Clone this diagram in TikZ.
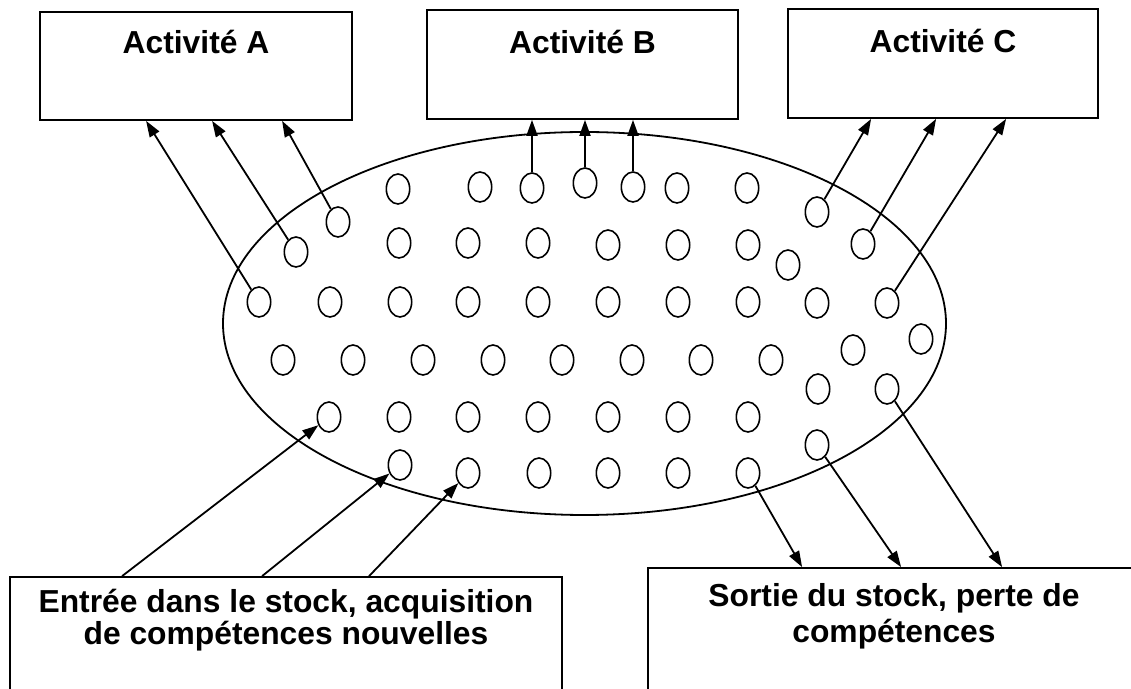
\documentclass[tikz,border=0pt]{standalone}
\usepackage{fontspec}
\setmainfont{Liberation Sans}
\usetikzlibrary{arrows.meta,shapes.geometric,calc}
\begin{document}
\begin{tikzpicture}[x=0.5pt,y=-0.5pt,
  box/.style={draw,line width=0.9pt,rectangle,inner sep=0pt},
  lbl/.style={font=\fontsize{15.9pt}{18pt}\selectfont\bfseries,inner sep=0pt},
  dot/.style={draw,ellipse,line width=0.8pt,minimum width=11.7pt,minimum height=15pt,inner sep=0pt},
  arr/.style={line width=0.9pt,-{Triangle[length=8pt,width=5.5pt]}},
  stock/.style={draw,ellipse,line width=0.9pt,minimum width=361.5pt,minimum height=191.5pt,inner sep=0pt}]
\useasboundingbox (0,0) rectangle (1131,689);
\clip (0,0) rectangle (1131,689);
% top boxes
\node[box,minimum width=156pt,minimum height=54pt] (A) at (196,66) {};
\node[box,minimum width=155.5pt,minimum height=54.5pt] (B) at (582.5,64.5) {};
\node[box,minimum width=155pt,minimum height=54.5pt] (C) at (943,63.5) {};
\node[lbl,anchor=base] (tA) at (196,54) {Activité A};
\node[lbl,anchor=base] (tB) at (582.5,54) {Activité B};
\node[lbl,anchor=base] (tC) at (943,53) {Activité C};
% bottom boxes
\node[box,minimum width=276pt,minimum height=71.5pt] (IN) at (286,648.5) {};
\node[box,minimum width=251pt,minimum height=76pt] (OUT) at (899,644) {};
\node[lbl,anchor=base,align=center,font=\fontsize{15.9pt}{16pt}\selectfont\bfseries] (tIN) at (286,645) {Entrée dans le stock, acquisition\\de compétences nouvelles};
\node[lbl,anchor=base,align=center,font=\fontsize{15.9pt}{18pt}\selectfont\bfseries] (tOUT) at (894,643) {Sortie du stock, perte de\\compétences};
% stock
\node[stock] (S) at (584.5,323.5) {};
\foreach \n/\x/\y in {
  u1/398/189, u2/480/187, b1/532/188, b2/585/183, b3/633/187, u6/677/188, u7/747/188,
  a1/259/302, a2/296/252, a3/338/222,
  v1/399/243, v2/468/243, v3/538/243, v4/608/245, v5/678/245, v6/748/245, v7/788/265,
  c1/817/212, c2/863/244, c3/887/303,
  w2/330/302, w3/400/302, w4/468/302, w5/538/302, w6/608/302, w7/678/302, w8/748/302, w9/817/303,
  x1/283/360, x2/353/360, x3/423/360, x4/493/360, x5/562/360, x6/632/360, x7/701/360, x8/771/360, x9/853/350, x10/921/339,
  in1/329/417, y2/399/417, y3/468/417, y4/538/417, y5/608/417, y6/678/417, y7/748/417, y8/818/389, out3/887/389,
  in2/400/465, in3/468/473, z3/539/473, z4/608/473, z5/678/473, out1/748/473, out2/817/445}
  \node[dot] (\n) at (\x,\y) {};
% arrows to A
\draw[arr] (a1) -- ($(A.south west)+(107,0)$);
\draw[arr] (a2) -- ($(A.south west)+(173,0)$);
\draw[arr] (a3) -- ($(A.south west)+(243,0)$);
% arrows to B
\draw[arr] (b1.north) -- (b1.north |- B.south);
\draw[arr] (b2.north) -- (b2.north |- B.south);
\draw[arr] (b3.north) -- (b3.north |- B.south);
% arrows to C
\draw[arr] (c1) -- ($(C.south west)+(84,0)$);
\draw[arr] (c2) -- ($(C.south west)+(149,0)$);
\draw[arr] (c3) -- ($(C.south west)+(219,0)$);
% entry arrows
\draw[arr] ($(IN.north west)+(113,0)$) -- (in1);
\draw[arr] ($(IN.north west)+(253,0)$) -- (in2);
\draw[arr] ($(IN.north west)+(360,0)$) -- (in3);
% exit arrows
\draw[arr] (out1) -- ($(OUT.north west)+(155,0)$);
\draw[arr] (out2) -- ($(OUT.north west)+(254,0)$);
\draw[arr] (out3) -- ($(OUT.north west)+(355,0)$);
\end{tikzpicture}
\end{document}
